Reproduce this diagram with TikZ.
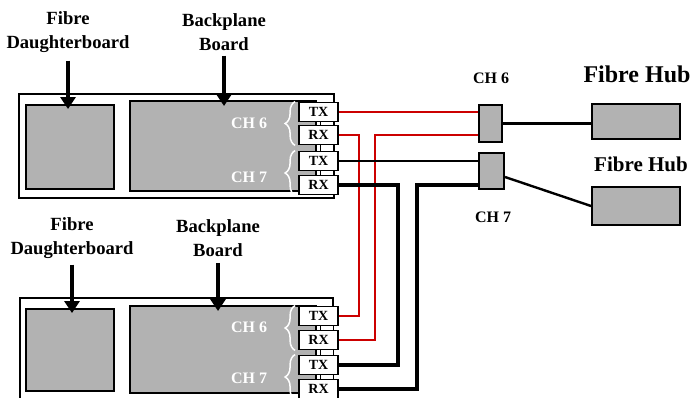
\documentclass[tikz,border=0pt]{standalone}
\usepackage{fontspec}
\setmainfont{Liberation Serif}
\usetikzlibrary{positioning,arrows.meta,calc,decorations.pathreplacing}
\definecolor{boardgrey}{RGB}{178,178,178}
\definecolor{fibrered}{RGB}{204,0,0}

\begin{document}
\begin{tikzpicture}[x=1pt,y=-1pt,
  >={Triangle[width=15pt,length=12pt]},
  board/.style={draw=black,line width=2pt,fill=boardgrey,inner sep=0pt},
  rack/.style={draw=black,line width=1.6pt,fill=white,inner sep=0pt},
  port/.style={draw=black,line width=1.8pt,fill=white,inner sep=0pt,
               minimum width=39pt,minimum height=19pt,
               font=\fontsize{14}{14}\selectfont\bfseries},
  chname/.style={text=white,anchor=base,font=\fontsize{16}{16}\selectfont\bfseries},
  chlabel/.style={anchor=base,font=\fontsize{16}{16}\selectfont\bfseries},
  chbrace/.style={draw=white,line width=1.5pt,decorate,
                  decoration={brace,amplitude=10pt}},
  caption/.style={align=center,inner sep=0pt,
                  font=\fontsize{18.6}{24}\selectfont\bfseries},
  hubname/.style={anchor=base,inner sep=0pt,font=\bfseries},
  feed/.style={->,line width=4pt},
  fibre/.style={line width=2.6pt}]

\useasboundingbox (0,0) rectangle (692,397);
\clip (0,0) rectangle (692,397);

% ============ Board A (top) ============
\begin{scope}
  \node[rack,minimum width=315pt,minimum height=104pt] (rackA) at (176.5,146) {};
  \node[board,minimum width=88pt,minimum height=84pt] (dbA) at (70,147) {};
  \node[board,minimum width=186pt,minimum height=90pt] (bpA) at (223,146) {};
  \node[rack,line width=1.2pt,minimum width=13pt,minimum height=88pt] (stripA) at (327,148) {};
  \node[port] (txA6) at (318.5,112) {TX};
  \node[port] (rxA6) at (318.5,135) {RX};
  \node[port] (txA7) at (318.5,161) {TX};
  \node[port] (rxA7) at (318.5,185) {RX};
  \draw[chbrace] ($(rxA6.south west)+(-3,0)$) -- ($(txA6.north west)+(-3,0)$);
  \draw[chbrace] ($(rxA7.south west)+(-3,0)$) -- ($(txA7.north west)+(-3,0)$);
  \node[chname] (chA6) at (249,128) {CH 6};
  \node[chname] (chA7) at (249,182) {CH 7};
  \node[caption] (dbAlbl) at (68,32) {Fibre\\Daughterboard};
  \node[caption] (bpAlbl) at (224,32) {Backplane\\Board};
  \draw[feed] ($(dbAlbl.south)+(0,8)$) -- ($(dbAlbl.south |- dbA.north)+(0,5)$);
  \draw[feed] ($(bpAlbl.south)+(0,5)$) -- ($(bpAlbl.south |- bpA.north)+(0,6)$);
\end{scope}

% ============ Board B (bottom) ============
\begin{scope}[yshift=-204pt]
  \node[rack,minimum width=313pt,minimum height=104pt] (rackB) at (176.5,146) {};
  \node[board,minimum width=88pt,minimum height=82pt] (dbB) at (70,146) {};
  \node[board,minimum width=186pt,minimum height=87pt] (bpB) at (223,145.5) {};
  \node[rack,line width=1.2pt,minimum width=13pt,minimum height=88pt] (stripB) at (327,148) {};
  \node[port] (txB6) at (318.5,112) {TX};
  \node[port] (rxB6) at (318.5,136) {RX};
  \node[port] (txB7) at (318.5,161) {TX};
  \node[port] (rxB7) at (318.5,185) {RX};
  \draw[chbrace] ($(rxB6.south west)+(-3,0)$) -- ($(txB6.north west)+(-3,0)$);
  \draw[chbrace] ($(rxB7.south west)+(-3,0)$) -- ($(txB7.north west)+(-3,0)$);
  \node[chname] (chB6) at (249,128) {CH 6};
  \node[chname] (chB7) at (249,179) {CH 7};
  \node[caption] (dbBlbl) at (72,34) {Fibre\\Daughterboard};
  \node[caption] (bpBlbl) at (218,34) {Backplane\\Board};
  \draw[feed] ($(dbBlbl.south)+(0,6)$) -- ($(dbBlbl.south |- dbB.north)+(0,5)$);
  \draw[feed] ($(bpBlbl.south)+(0,6)$) -- ($(bpBlbl.south |- bpB.north)+(0,6)$);
\end{scope}

% ============ Channel connectors and hubs ============
\node[board,minimum width=23pt,minimum height=37pt] (conn6) at (490.5,123.5) {};
\node[board,minimum width=25pt,minimum height=36pt] (conn7) at (491.5,171) {};
\node[chlabel] (conn6lbl) at (491,83) {CH 6};
\node[chlabel] (conn7lbl) at (493,222) {CH 7};
\node[board,minimum width=88pt,minimum height=35pt] (hub6) at (636,121) {};
\node[board,minimum width=88pt,minimum height=38pt] (hub7) at (636,206) {};
\node[hubname,font=\fontsize{24}{24}\selectfont\bfseries] (hub6lbl) at (637,82) {Fibre Hub};
\node[hubname,font=\fontsize{21}{21}\selectfont\bfseries] (hub7lbl) at (641,171) {Fibre Hub};

% CH 6 (red)
\draw[fibre,fibrered] (txA6.east) -- (txA6.east -| conn6.west);
\draw[fibre,fibrered] (rxA6.east) -- ++(20,0) |- (txB6.east);
\draw[fibre,fibrered,line width=2pt] (conn6.west |- rxA6.east) -- ++(-103,0) |- (rxB6.east);
% CH 7 (black)
\draw[fibre] (txA7.east) -- (txA7.east -| conn7.west);
\draw[fibre,line width=3.4pt] (rxA7.east) -- ++(59,0) |- (txB7.east);
\draw[fibre,line width=3.4pt] (conn7.west |- rxA7.east) -- ++(-61,0) |- (rxB7.east);
% to the hubs
\draw[fibre,line width=2.8pt] (conn6.east) -- (conn6.east -| hub6.west);
\draw[fibre,line width=2.4pt] ($(conn7.east)+(0,6)$) -- (hub7.west);

\end{tikzpicture}
\end{document}
